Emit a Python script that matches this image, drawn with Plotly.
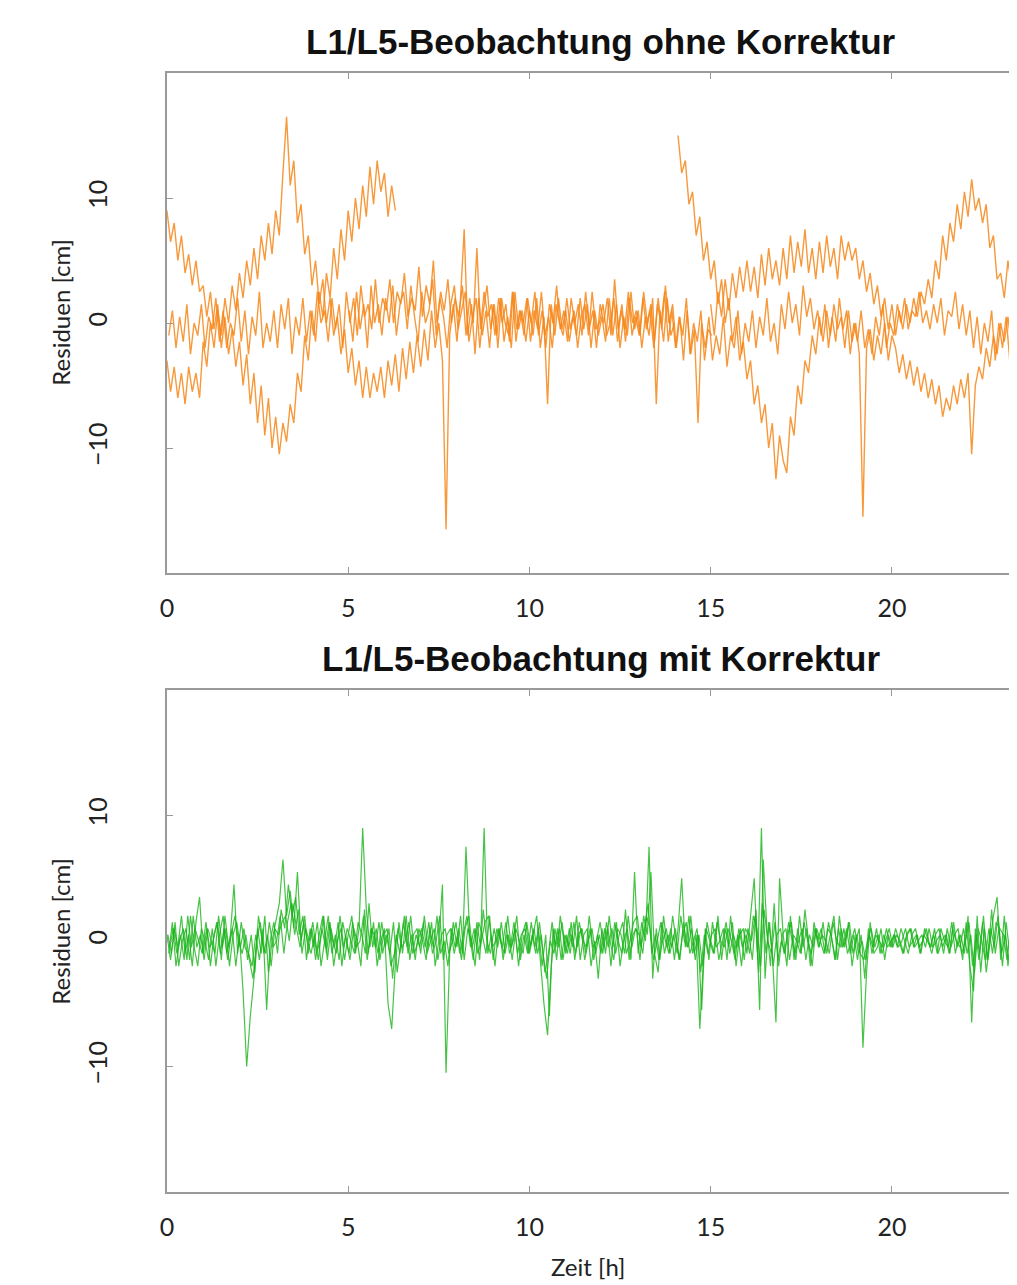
import numpy as np
import plotly.graph_objects as go

# ---------------- data (residuals in cm, time in hours, 0.1 h sampling) ----------------
STEP = 0.1

# top panel: L1/L5 without correction (satellite arcs)
top_arc1_start = 0.0
top_arc1 = [9, 6.5, 8, 5, 7, 4, 5.5, 3, 5, 2.5,
            3, 0.5, 2.5, -0.5, 1.5, -2, 0.5, -2.5, -0.5, -3.5,
            -1.5, -5, -2.5, -6.5, -4, -8, -5, -9, -6, -10,
            -7.5, -10.5, -8, -9.5, -6.5, -8, -4, -5.5, -1, -3,
            1, -1.5, 2.5, 0.5, 4, 2, 6, 3.5, 7.5, 5,
            9, 6.5, 10, 7.5, 11, 8.5, 12.5, 9.5, 13, 10.5,
            12, 8.5, 11, 9]

top_arc2_start = 0.0
top_arc2 = [-3, -5.5, -3.5, -6, -4, -6.5, -3.5, -5.5, -4, -6,
            -1.5, -3.5, 0, -2, 1, -1, 2, 0, 3, 1,
            4, 2, 5, 3, 6, 3.5, 7, 5, 8, 5.5,
            9, 7, 12, 16.5, 11, 13, 8, 9.5, 5.5, 7,
            3, 5, 1.5, 3.5, 0, 2, -1, 0.5, -2.5, -0.5,
            -4, -2, -5, -3, -6, -3.5, -6, -4, -5.5, -3.5,
            -6, -3, -5, -2.5, -5.5, -2, -4.5, -1.5, -4, -1,
            -3.5, -0.5, -3, 1, -2, 0, -3, -16.5, -1, 1.5,
            -1.5, 2, 7.5, -1, 1.5, -2.5, 2, -1, 1, -2,
            1.5, -1, 2, -1.5, 0.5, -2, 2.5, -0.5, 1, -1.5,
            1, -1, 2, -2, 0.5, -6.5, 1.5, -1, 2, -0.5,
            1, -1.5, 0.5, -1, 2, -0.5, 1.5, -2, 1, -1,
            0.5, -1.5, 2, -1, 1.5, -2, 0.5, -1, 2.5, -0.5,
            1, -2, 0.5, -1, 2, -6.5, 1, -1.5, 2, -1,
            0]

top_arc3_start = 0.05
top_arc3 = [-1, 1, -2, 0.5, -1.5, 1.5, -2.5, 0, -1, 1.5,
            -2, 0.5, -0.5, 2, -1.5, 1, -2, 0, -1, 2,
            -1.5, 1, -2.5, 0.5, -1, 2.5, -2, 0, -1.5, 1,
            -2, 1.5, -0.5, 2, -2.5, 0.5, -1, 2, -1.5, 1,
            -1, 2.5, 0, 1, -1.5, 2, -0.5, 1.5, -2, 2.5,
            0, 2, -1, 3, 0.5, 1.5, -0.5, 3.5, 0, 2,
            1, 3.5, 0, 2.5, 1.5, 4, 0.5, 2, 1, 4.5,
            0.5, 3, 1.5, 5, 0, 2.5, 1, 3.5, 0, 2,
            0.5, 3, -1, 2, 0, 6, -0.5, 2.5, 0.5, 1.5,
            -1, 2, 0, 1.5, -1.5, 2.5, -0.5, 1, -1, 2,
            0, 2.5, -1, 1, -2, 1.5, 0, 3, -0.5, 1,
            -1.5, 2, 0, 1.5, -1, 2.5, -0.5, 1, -2, 1.5,
            0, 2, -1, 3.5, -0.5, 1.5, -1.5, 2, 0, 1,
            -1, 2.5, 0, 1.5, -1.5, 2, -0.5, 3, 0, 1.5,
            -2, 0.5, -3, 1, -2.5, -0.5, -8, 0, -2, 0.5,
            -3, -1, -2.5, 0.5, -3.5, -1, -2, 1, -2.5, 0,
            -1.5, 1, -2, 0.5, -1, 2, -1.5, 0, -2.5, 1.5,
            -0.5, 2.5, 0, 1.5, -1, 3, 0.5, 2, -0.5, 1,
            -1, 1.5, -2, 0.5, -1.5, 2, -0.5, 1, -2.5, 0,
            -1.5, 1, -2, -0.5, -2.5, 0.5, -1, 1.5, -2, 0,
            -1, 1.5, 0, 2, -0.5, 1, 0.5, 2.5, 0, 1,
            -0.5, 1.5, 0, 2, -1, 1, 0.5, 2.5, -0.5, 1.5,
            -1, 1, -2, 0.5, -2.5, 0, -1.5, 1, -3, 0,
            -2, 0.5, -3, -1]

top_arc4_start = 14.1
top_arc4 = [15, 12, 13, 9.5, 10.5, 7, 8.5, 5, 6.5, 3.5,
            5, 1.5, 3.5, 0, 2, -1.5, 0.5, -3, -1.5, -4.5,
            -3, -6.5, -5, -8, -6.5, -10, -8, -12.5, -9, -11,
            -12, -7.5, -9, -5, -6.5, -3, -4, -1, -2.5, 0.5,
            -1.5, 1, -1, 1.5, -0.5, 0.5, -2, 1, -1.5, 0,
            -2.5, -15.5, -2, -0.5, -3, -1, -2.5, 0, -3, -1,
            -2, -4, -2.5, -4.5, -3, -5, -3.5, -5.5, -4, -6,
            -4.5, -6.5, -5, -7.5, -6, -7, -5, -6.5, -4.5, -6,
            -4, -10.5, -5, -3.5, -4.5, -2, -3.5, -1, -2.5, 0,
            -1.5, 0.5, -2, -0.5]

top_arc5_start = 15.0
top_arc5 = [1.5, -1, 2.5, 0.5, 3.5, 1, 4, 2, 4.5, 2.5,
            5, 2.5, 4.5, 2, 5.5, 3, 6, 3.5, 5, 3,
            6, 3.5, 7, 4, 6.5, 4.5, 7.5, 4, 6, 3.5,
            6.5, 4, 7, 4.5, 6, 3.5, 7, 5, 6.5, 5,
            6, 3.5, 5, 2.5, 4, 1.5, 3, 0.5, 2, -0.5,
            1.5, -1, 1, -0.5, 1.5, 0, 2, 0.5, 2.5, 1.5,
            3.5, 2, 5, 3.5, 7, 5, 8, 6.5, 9.5, 7.5,
            10.5, 8.5, 11.5, 9, 10, 8, 9.5, 6, 7, 3.5,
            4, 2, 5, 3, 5.5]

top_arc6_start = 5.03
top_arc6 = [1, -1.5, 2.5, -0.5, 1.5, -2, 3, 0, 1.5, -1,
            2, 0, 3, -1, 1.5, 2.5, -0.5, 3, 0.5, -1.5,
            2.5, 0, 1, 3.5, -1, 2, 0.5, -2, 1.5, 3,
            -0.5, 1, 2.5, -1.5, 0.5, 2, -2, 1, 3, -0.5,
            1.5, -2, 2, 0, -1, 2.5, -1.5, 1, 0, 2,
            -1.5, 1, -0.5, 2.5, -1, 0.5, -2, 1.5, 0, -1,
            2, -0.5, 1, -2, 0.5, 1.5, -1, 2.5, -0.5, 0,
            1.5, -1, 0, 2, -1.5, 1, -0.5, 2.5, -1, 0.5,
            -1, 2, -0.5, 1, -2, 1.5, 0, 2.5, -1.5, 1,
            -2, 0.5, -1, 2, -2.5, 0, -1.5, 1, -3, -0.5,
            -1]

# bottom panel: L1/L5 with correction
bot_ser1_start = 0.0
bot_ser1 = [0.5, -1.5, 1, -0.5, 2, -1, 0.5, -2, 1.5, 3.5,
            -1, 1, -2, 0.5, 1.5, -1.5, 2, -0.5, 1, -2,
            0.5, -4, -10, -6, -3, 1, -1, 2, -2.5, 0,
            1.5, 3, 6.5, 2, 4, 1, 5.5, 0, 2, -1,
            1, -1.5, 0.5, 2, -1, 1.5, -2, 0, 1, -1.5,
            0.5, 2, -1, 1, 9, 2.5, -0.5, 1.5, -2, 0,
            1, -5, -7, -2, 1.5, -1, 2, -1.5, 0.5, 1,
            -1, 2, -0.5, 1.5, -2, 0, 4.5, -10.5, -1, 1.5,
            -0.5, 2, -1.5, 1, 0, -2, 1.5, 0.5, -1, 2,
            -1.5, 1, 0, -1, 2, -0.5, 1, -2, 0.5, 1.5,
            -1, 0.5, 2, -1.5, -5, -7.5, -2, 1, -0.5, 1.5,
            -1, 1, -0.5, 2, -1.5, 0.5, 1, -2, 0, -3,
            1, -1, 2, -0.5, 1.5, -2, 0, 1, -1.5, 5.5,
            -1, 1.5, 0, 7.5, -3, 1, -1.5, 2, -0.5, 1,
            -1.5, 1, 5, -0.5, 2, -1, 0.5, -7, -1.5, 1.5,
            0, -1, 2, -1.5, 1, -0.5, 1.5, -2, 0.5, 1,
            -1, 2, 5, -1.5, 9, -3, 1.5, -1, -6.5, 5,
            0.5, -2, 2, -1.5, 1, -1, 2.5, 0, -2, 1,
            -0.5, 1.5, -1, 0.5, 2, -1.5, 1, -0.5, 1.5, -2,
            0, 1, -8.5, -2.5, 1.5, -1, -0.5, 1, -1.5, 0.5,
            -0.5, 1, 0, -1, 0.5, 1, -0.5, 0.5, -1, 1,
            0, -1, 0.5, 1, -0.5, 0.5, -1, 1.5, -0.5, 0.5,
            -1, 2, -6.5, 1, -1.5, 1.5, -2.5, 0, 2, 3.5,
            -1.5, 2, -2, 0.5, -1.5]

bot_ser2_start = 0.05
bot_ser2 = [-1, 1.5, -2, 0, 1, -1.5, 2, -0.5, -2, 1,
            0, -1.5, 1, -2, 0.5, 2, -1, 0.5, 4.5, -1,
            1.5, -0.5, -1, -2, 0.5, -1.5, 1, -5.5, 0, 1.5,
            -1, 2.5, 1, 4.5, 2, 3.5, 0.5, 2, -1.5, 1,
            -0.5, 1.5, -2, 0, 2, -1, 0.5, -1.5, 1.5, 0,
            -1.5, 1, 0, -2, 2.5, -1, 1, -0.5, 1.5, -1,
            0.5, -1, 1.5, -2.5, 0, 2, -1, 0.5, -1.5, 1,
            0, -1.5, 1, -0.5, 2, -1, 0, -2, 1, -0.5,
            1, -1, 7.5, 0.5, -1.5, 1.5, -0.5, 9, -1, 0.5,
            -2, 1, -0.5, 1.5, -1, 0, 2, -1.5, 0.5, -1,
            1.5, -0.5, 1, -2, 0.5, -6, 1, -1.5, 2, 0,
            -1, 1.5, -1.5, 0.5, 1, -1, 2, -0.5, 0, 1.5,
            -0.5, 1, -2, 1.5, 0, -1, 2.5, -1.5, 0.5, 1,
            -1.5, 2, 0.5, 5.5, -1, -2.5, 1.5, 0, -1, 2,
            0, -1.5, 1.5, -0.5, 2, -1, 0.5, -5.5, 1, -1.5,
            1.5, -0.5, 0, 1, -1.5, 2, -1, 0.5, -2, 1,
            0.5, -1.5, 2.5, -5.5, 6.5, 1, -2, 3, -1.5, 0,
            -1, 1.5, 0, -1.5, 2, -0.5, 1, -2, 1.5, 0,
            1, -1, 1.5, 0, -1.5, 2, -0.5, 1, -1, 0.5,
            -1.5, 0.5, -3, 1, -1, 0.5, 0, -0.5, 1, -0.5,
            0.5, -0.5, 1, 0, -1, 0.5, 1, -0.5, 0, 1,
            -0.5, 0.5, -1, 1, 0, -0.5, 1.5, -1, 0.5, -1.5,
            1.5, -2, -4, 2, -2.5, 1, -1.5, 2.5, -1, 1,
            -2, 1.5, -1, 2]

bot_ser3_start = 0.025
bot_ser3 = [0.5, -1, 1.5, -2, 0, 1, -1.5, 2, -0.5, 0.5,
            -1.5, 1, 0, -1, 2, -0.5, 1, -2, 0.5, 1.5,
            -0.5, 1, -1.5, 0.5, -2.5, 2, 0, -1, 1.5, -0.5,
            0, 2, -1, 1.5, 3, 0.5, 2.5, -1, 1, 0,
            1.5, -1, 0, 2, -1.5, 1, -0.5, 1.5, -2, 0.5,
            -1, 1.5, -0.5, 0, 2, -1.5, 1, 0.5, -1, 1.5,
            -0.5, 1, -3, 0.5, -1, 1.5, -0.5, 2, -1, 0,
            1, -0.5, 1.5, -1, 0, 2, -1.5, 0.5, 1, -1,
            0.5, -1.5, 1, 2, -0.5, 1, -1.5, 2.5, 0, -1,
            1, -0.5, 1.5, -1, 0.5, -1.5, 1, 0, -1, 1.5,
            -0.5, 1, -1, 0.5, -2.5, -1, 1.5, -0.5, 1, -1.5,
            0.5, -1, 1.5, -0.5, 1, -1.5, 0, 1, -1, 0.5,
            -1, 1.5, 0, -1.5, 1, 0.5, -1, 2, -0.5, 1,
            0.5, -1, 2, 1, -1.5, 0, 1.5, -1, 0.5, -0.5,
            1, -1.5, 0.5, 1.5, -1, 0, 1, -2.5, 0.5, -1,
            0.5, 1, -1.5, 0, 1.5, -1, 0.5, -0.5, 1, -1.5,
            1, 0, 2, -2.5, 3, -1, 1.5, -2, 0.5, 1,
            -1, 0.5, 1.5, -1, 0, 1, -1.5, 0.5, -0.5, 1,
            0, -1, 1, 0.5, -1.5, 1, -0.5, 0, 1.5, -1,
            0.5, -1, -1.5, 0, 1, -0.5, 0.5, -1, 0, 1,
            -0.5, 0.5, 0, -1, 0.5, 1, -0.5, 0, 0.5, -0.5,
            1, -0.5, 0, 0.5, -1, 1, -0.5, 0.5, 1, -1,
            0, 1.5, -2, 0.5, -1, 2, -1.5, 1, -0.5, 2,
            -1, 0.5, -1.5, 1]

bot_ser4_start = 0.075
bot_ser4 = [-0.5, 1, -1, 0.5, -1.5, 2, -0.5, 1, 0, -1,
            1.5, -0.5, 0, 1.5, -1, 1, -1.5, 0.5, 2, 0,
            -1, 0.5, -1.5, -3, 0, 1.5, -1, 0.5, -2, 1,
            0.5, 1.5, 2, 0, 3, 1, -0.5, 1.5, 0, -1,
            0.5, -1.5, 1, -0.5, 1.5, 0, -1, 2, -0.5, 1,
            0, -1, 1.5, 0.5, -1, 3, -0.5, 1, -1.5, 0.5,
            1, -2, -1, 1, -0.5, 0, 1.5, -1, 0.5, -0.5,
            1.5, -1, 0, 1, -1.5, 0.5, 1, -1, 0, 1.5,
            -1, 0.5, 2, -0.5, 1, -1, 0, 1.5, 2, -0.5,
            0, 1, -1.5, 0.5, -0.5, 1.5, -1, 0.5, 1, -1,
            0.5, -1, 1.5, -1, -3, 0, -1, 1, -1.5, 0.5,
            -0.5, 0.5, -1, 1.5, 0, -0.5, 1, -1.5, 0.5, -1,
            1, -0.5, 1, -1, 0.5, 1.5, -1, 0, 1.5, 2,
            -0.5, 1, 3, -1, 0.5, -1.5, 0, 1, -1, 0.5,
            -1, 2, 0, -0.5, 1, -1.5, 0.5, -2, 1, 0,
            -1, 1.5, 0, -0.5, 1, 0, -1.5, 1, -0.5, 0.5,
            -1, 2, 1, -2, 2.5, 0, -1, 1.5, -2, 0.5,
            1, -1.5, 0.5, 0, -1, 1.5, 0, -1, 1, -0.5,
            0.5, 0, -1, 1.5, 0, -0.5, 1, -1, 0, 1,
            -1, 0, -1.5, 0.5, -0.5, 1, -1, 0.5, -0.5, 0,
            0.5, -0.5, 0, 1, -0.5, 0, 0.5, -1, 0.5, 0,
            -0.5, 1, -1, 0, 0.5, -1, 1, 0, -0.5, 1,
            -1, 0.5, -2.5, 1, 0, -1.5, 1, -1, 1.5, 1,
            0.5, -1.5, 1, -0.5]

x_ticks = [0, 5, 10, 15, 20]
y_ticks = [-10, 0, 10]
title_top = "L1/L5-Beobachtung ohne Korrektur"
title_bot = "L1/L5-Beobachtung mit Korrektur"
x_label = "Zeit [h]"
y_label = "Residuen [cm]"

# ---------------- figure ----------------
# the page body has an 8 px margin, so the figure is 8 px smaller than the window
OFF = 8
W, H = 1017 - OFF, 1285 - OFF
ORANGE = "rgba(246,134,24,0.85)"
GREEN = "rgba(24,180,24,0.8)"


def times(start, vals):
    return np.round(start + STEP * np.arange(len(vals)), 3)


def px(x):
    return (x - OFF) / W


def py(y):
    return 1 - (y - OFF) / H


fig = go.Figure()
top_series = [(top_arc1_start, top_arc1), (top_arc2_start, top_arc2),
              (top_arc3_start, top_arc3), (top_arc4_start, top_arc4),
              (top_arc5_start, top_arc5), (top_arc6_start, top_arc6)]
for s, v in top_series:
    fig.add_trace(go.Scatter(x=times(s, v), y=v, mode="lines",
                             line=dict(color=ORANGE, width=1.4),
                             xaxis="x", yaxis="y", showlegend=False))
bot_series = [(bot_ser1_start, bot_ser1), (bot_ser2_start, bot_ser2),
              (bot_ser3_start, bot_ser3), (bot_ser4_start, bot_ser4)]
for s, v in bot_series:
    fig.add_trace(go.Scatter(x=times(s, v), y=v, mode="lines",
                             line=dict(color=GREEN, width=1.2),
                             xaxis="x2", yaxis="y2", showlegend=False))

AX_COL = "#9a9a9a"
TICK_FONT = dict(family="Lato, Open Sans, sans-serif", size=25, color="#222")

xcommon = dict(range=[0, 23.45], tickvals=x_ticks, ticks="inside", ticklen=6,
               tickcolor=AX_COL, showline=True, linecolor=AX_COL, linewidth=1.5,
               mirror="ticks", showgrid=False, zeroline=False, tickfont=TICK_FONT,
               ticklabelstandoff=12, domain=[px(161), 1.0])
ycommon = dict(range=[-20, 20], tickvals=y_ticks, ticks="inside", ticklen=6,
               tickcolor=AX_COL, showline=True, linecolor=AX_COL, linewidth=1.5,
               mirror=False, showgrid=False, zeroline=False, tickfont=TICK_FONT,
               tickangle=-90, ticklabelstandoff=48)

fig.update_layout(
    width=W, height=H,
    margin=dict(l=0, r=0, t=0, b=0),
    paper_bgcolor="white", plot_bgcolor="white",
    xaxis=dict(xcommon, anchor="y"),
    yaxis=dict(ycommon, anchor="x", domain=[py(573), py(73)]),
    xaxis2=dict(xcommon, anchor="y2"),
    yaxis2=dict(ycommon, anchor="x2", domain=[py(1192), py(690)]),
)

TITLE_FONT = dict(family="Liberation Sans, Arial, sans-serif", size=35, color="#111")
LABEL_FONT = dict(family="Lato, Open Sans, sans-serif", size=24, color="#222")
fig.add_annotation(text="<b>%s</b>" % title_top, x=px(598), y=py(42), xref="paper", yref="paper",
                   showarrow=False, font=TITLE_FONT, xanchor="center", yanchor="middle")
fig.add_annotation(text="<b>%s</b>" % title_bot, x=px(598), y=py(658), xref="paper", yref="paper",
                   showarrow=False, font=TITLE_FONT, xanchor="center", yanchor="middle")
fig.add_annotation(text=x_label, x=px(585), y=py(1266), xref="paper", yref="paper",
                   showarrow=False, font=LABEL_FONT, xanchor="center", yanchor="middle")
for yc in (313, 932):
    fig.add_annotation(text=y_label, x=px(54), y=py(yc), xref="paper", yref="paper",
                       showarrow=False, font=LABEL_FONT, textangle=-90,
                       xanchor="center", yanchor="middle")

fig.write_html("out.html")
